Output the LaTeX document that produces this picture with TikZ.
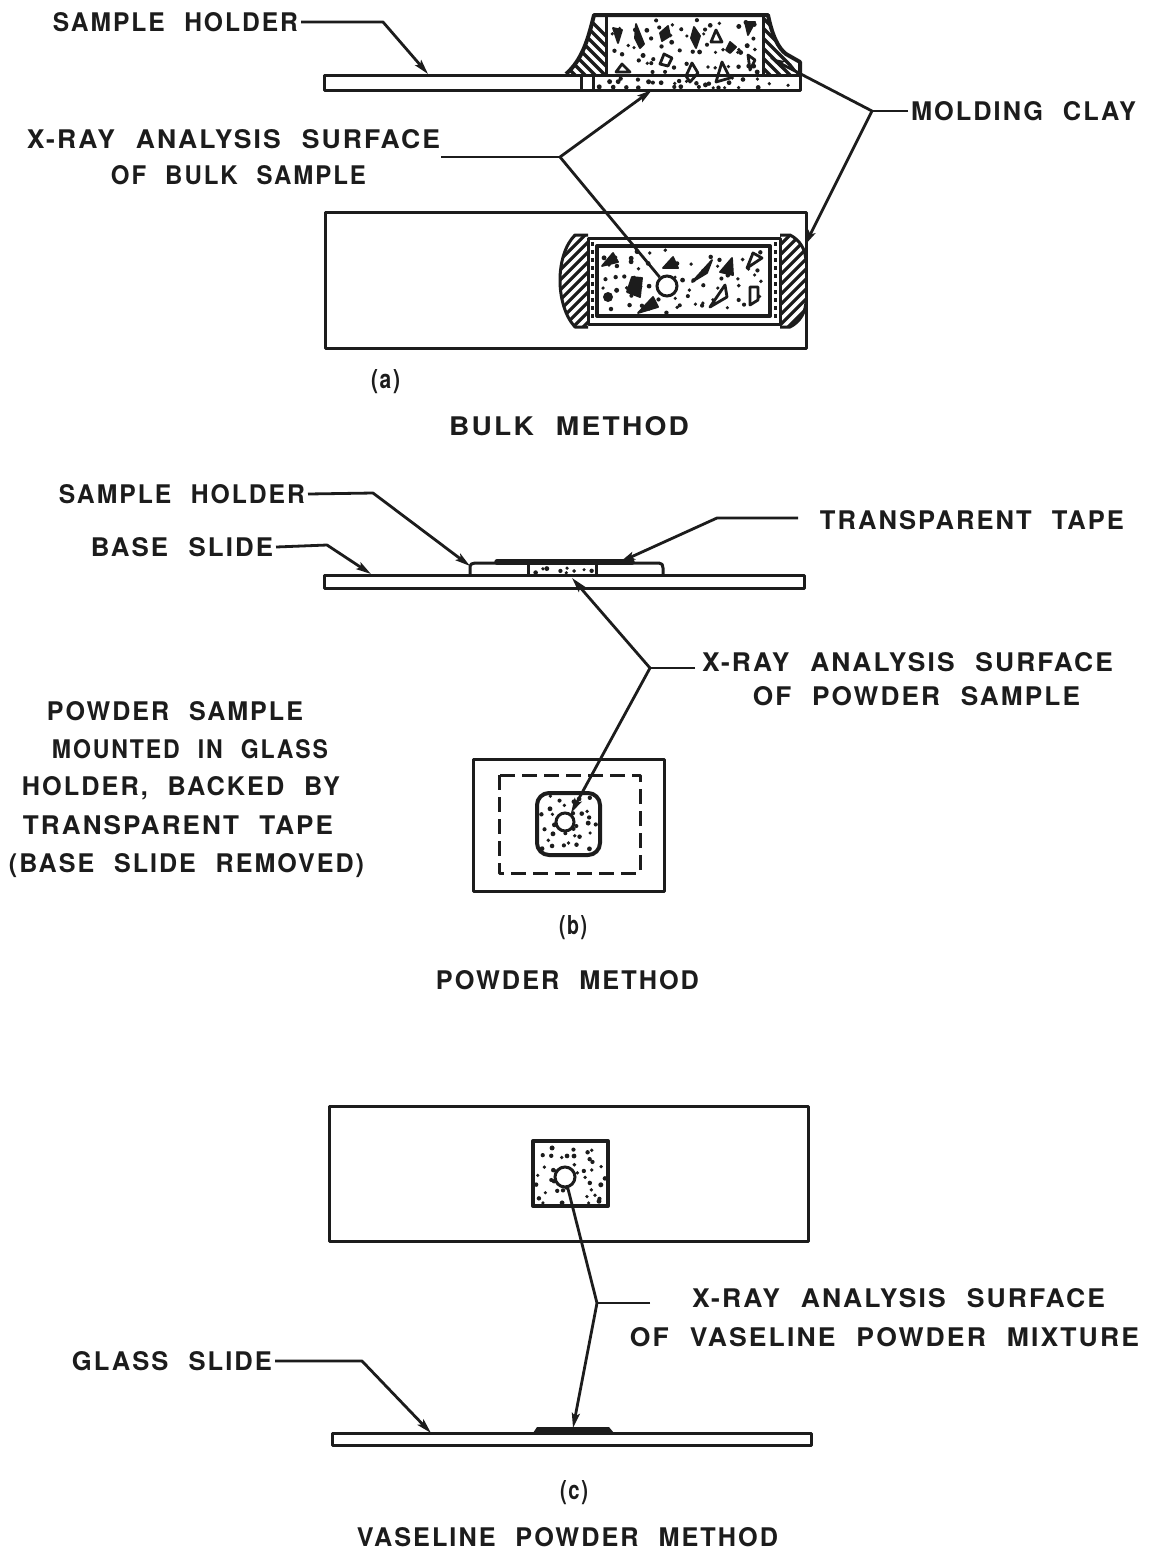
\documentclass[tikz,border=0pt]{standalone}
\usepackage{fontspec}
\usepackage{graphicx}
\usetikzlibrary{arrows.meta}
\newfontfamily\lblfont[LetterSpace=8,WordSpace=2.2]{TeX Gyre Heros Bold}
\definecolor{ink}{HTML}{1C1C1C}
\tikzset{
  line/.style={draw=ink,line width=3pt,line join=round},
  heavy/.style={draw=ink,line width=4pt,line join=round},
  ptr/.style={draw=ink,line width=2.8pt,line join=round,-{Stealth[length=15pt,width=8pt,inset=3pt]}},
  lead/.style={draw=ink,line width=2.8pt,line join=round},
  lab/.style={inner sep=0pt,outer sep=3pt,text=ink,text height=19pt,text depth=0pt},
  grain/.style={draw=ink,line width=2.8pt,fill=white,line join=round},
  solidgrain/.style={draw=ink,line width=1.8pt,fill=ink,line join=round},
  hatch/.style={draw=ink,line width=3.2pt},
  spot/.style={circle,draw=ink,line width=3pt,fill=white,inner sep=0pt},
}
% name, x-left, x-right, y-centre, text
\newcommand{\lbl}[5]{%
  \pgfmathsetlengthmacro{\lblw}{(#3-#2)*1pt}%
  \pgfmathsetmacro{\lblx}{(#2+#3)/2}%
  \node[lab] (#1) at (\lblx,#4) {\resizebox{\lblw}{19pt}{\lblfont #5}};}
% x1,x2,y1,y2,step : evenly scattered specks
\newcommand{\speckle}[5]{%
  \pgfmathsetmacro{\nxs}{int((#2-#1)/#5)}%
  \pgfmathsetmacro{\nys}{int((#4-#3)/#5)}%
  \foreach \ii in {0,...,\nxs}{%
    \foreach \jj in {0,...,\nys}{%
      \pgfmathsetmacro{\keep}{rnd}%
      \pgfmathsetmacro{\sx}{#1+(\ii+rnd)*#5}%
      \pgfmathsetmacro{\sy}{#3+(\jj+rnd)*#5}%
      \pgfmathsetmacro{\sr}{1.7+0.8*rnd}%
      \ifdim\keep pt<0.82pt
        \ifdim\sx pt<#2pt \ifdim\sy pt<#4pt
          \fill[ink] (\sx,\sy) circle[radius=\sr pt];
        \fi\fi
      \fi}}}
\begin{document}
\begin{tikzpicture}[x=1pt,y=-1pt]
\useasboundingbox (0,0) rectangle (1151,1551);
\fill[white] (0,0) rectangle (1151,1551);
\pgfmathsetseed{4217}

% ---------- (a) side view
\begin{scope}
  \clip (566,74) .. controls (582,60) and (588,40) .. (594,15) -- (606,15) -- (606,74) -- cycle;
  \foreach \k in {-10,0,...,80}{\draw[hatch] (560,{\k}) -- (610,{\k+50});}
\end{scope}
\begin{scope}
  \clip (768,15) .. controls (772,35) and (778,48) .. (800,75) -- (763,75) -- (763,15) -- cycle;
  \foreach \k in {-30,-20,...,80}{\draw[hatch] (755,{\k}) -- (805,{\k+50});}
\end{scope}
\speckle{609}{760}{20}{72}{10}
\speckle{596}{797}{78}{88}{8}
\draw[solidgrain] (613,28) -- (622,30) -- (618,43) -- cycle;
\draw[solidgrain] (636,24) -- (644,44) -- (640,48) -- (635,38) -- cycle;
\draw[solidgrain] (660,33) -- (668,26) -- (670,36) -- (662,41) -- cycle;
\draw[solidgrain] (694,27) -- (700,36) -- (696,48) -- (691,38) -- cycle;
\draw[solidgrain] (730,42) -- (736,47) -- (730,53) -- (726,50) -- cycle;
\draw[solidgrain] (745,22) -- (755,22) -- (748,35) -- cycle;
\draw[grain] (716,30) -- (722,42) -- (711,42) -- cycle;
\draw[grain] (664,54) -- (672,58) -- (668,66) -- (660,64) -- cycle;
\draw[grain] (622,64) -- (630,72) -- (616,72) -- cycle;
\draw[grain] (692,63) -- (698,73) -- (690,82) -- (686,76) -- cycle;
\draw[grain] (722,62) -- (730,78) -- (716,82) -- cycle;
\draw[grain] (748,55) -- (755,60) -- (750,70) -- cycle;
\draw[heavy] (566,74) .. controls (582,60) and (588,40) .. (594,15) -- (768,15)
  .. controls (772,35) and (778,48) .. (786,54) -- (800,62) -- (800,75);
\draw[line] (606,15) -- (606,74);
\draw[line] (763,15) -- (763,74);
\draw[line] (324,75) rectangle (800,90);
\draw[line] (581,75) -- (581,90);
\draw[line] (593,75) -- (593,90);

% ---------- (a) plan view
\draw[line] (325,212) rectangle (806,348);
\begin{scope}
  \clip (588,235) -- (575,235) .. controls (555,255) and (555,305) .. (575,327) -- (588,327) -- cycle;
  \foreach \k in {210,220,...,340}{\draw[hatch] (550,{\k+30}) -- (590,{\k-10});}
\end{scope}
\begin{scope}
  \clip (780,235) -- (790,235) .. controls (800,240) and (806,250) .. (806,262) -- (806,300) .. controls (806,312) and (800,322) .. (790,327) -- (780,327) -- cycle;
  \foreach \k in {210,220,...,350}{\draw[hatch] (775,{\k+30}) -- (810,{\k-5});}
\end{scope}
\draw[line] (588,235) -- (575,235) .. controls (555,255) and (555,305) .. (575,327) -- (588,327);
\draw[line] (780,235) -- (790,235) .. controls (800,240) and (806,250) .. (806,262);
\draw[line] (806,300) .. controls (806,312) and (800,322) .. (790,327) -- (780,327);
\draw[line] (588,238) rectangle (780,324);
\draw[heavy] (597,246) rectangle (770,316);
\draw[line,dash pattern=on 4pt off 4pt] (592,242) -- (592,320);
\draw[line,dash pattern=on 4pt off 4pt] (775,242) -- (775,320);
\speckle{601}{767}{250}{313}{11}
\draw[solidgrain] (613,253) -- (602,266) -- (618,262) -- cycle;
\draw[solidgrain] (673,257) -- (663,268) -- (678,268) -- cycle;
\draw[solidgrain] (712,260) -- (692,282) -- (707,273) -- cycle;
\draw[solidgrain] (732,258) -- (720,272) -- (733,275) -- cycle;
\draw[grain] (753,253) -- (747,268) -- (762,258) -- cycle;
\draw[solidgrain] (632,277) -- (627,292) -- (640,297) -- (642,278) -- cycle;
\fill[ink] (608,297) circle[radius=5pt];
\draw[solidgrain] (653,297) -- (638,313) -- (658,307) -- cycle;
\draw[grain] (725,285) -- (710,307) -- (727,297) -- cycle;
\draw[grain] (750,287) -- (750,305) -- (758,300) -- (758,287) -- cycle;
\node[spot,minimum size=20pt] (acirc) at (667,286) {};

% ---------- (a) labels and connectors
\lbl{aholder}{53}{298}{22}{SAMPLE HOLDER}
\lbl{axray}{27}{440}{139}{X-RAY ANALYSIS SURFACE}
\lbl{abulk}{111}{366}{175}{OF BULK SAMPLE}
\lbl{aclay}{911}{1136}{111}{MOLDING CLAY}
\lbl{alab}{371}{400}{379}{(a)}
\lbl{amethod}{449}{689}{426}{BULK METHOD}
\coordinate (a1) at (383,22);
\coordinate (a1t) at (428,74);
\coordinate (a2) at (560,157);
\coordinate (a2l) at (441,157);
\coordinate (a2t) at (652,90);
\coordinate (a3) at (872,111);
\coordinate (a3t) at (770,58);
\coordinate (a4t) at (805,245);
\draw[ptr] (aholder.east) -- (a1) -- (a1t);
\draw[lead] (a2l) -- (a2);
\draw[ptr] (a2) -- (a2t);
\draw[lead] (a2) -- (acirc);
\draw[lead] (aclay.west) -- (a3);
\draw[ptr] (a3) -- (a3t);
\draw[ptr] (a3) -- (a4t);

% ---------- (b) side view
\speckle{531}{594}{568}{574}{6}
\draw[line] (324,575) rectangle (804,588);
\draw[line] (470,575) -- (470,568) .. controls (470,564) and (472,563) .. (475,563) -- (659,563) .. controls (662,563) and (663,565) .. (663,568) -- (663,575);
\draw[draw=ink,line width=5.5pt,line cap=round] (497,562) -- (632,562);
\draw[line] (528,563) -- (528,575);
\draw[line] (596,563) -- (596,575);

% ---------- (b) plan view
\draw[line] (473,759) rectangle (664,891);
\draw[line,dash pattern=on 15pt off 7pt] (499,775) rectangle (640,873);
\begin{scope}
  \clip[rounded corners=12pt] (537,793) rectangle (600,855);
  \speckle{540}{598}{796}{853}{9}
\end{scope}
\draw[heavy,rounded corners=12pt] (537,793) rectangle (600,855);
\node[spot,minimum size=18pt] (bcirc) at (565,822) {};

% ---------- (b) labels and connectors
\lbl{bholder}{59}{305}{494}{SAMPLE HOLDER}
\lbl{bbase}{91}{273}{547}{BASE SLIDE}
\lbl{btape}{820}{1124}{520}{TRANSPARENT TAPE}
\lbl{bxray}{702}{1113}{662}{X-RAY ANALYSIS SURFACE}
\lbl{bpow}{753}{1080}{696}{OF POWDER SAMPLE}
\lbl{bn1}{47}{303}{711}{POWDER SAMPLE}
\lbl{bn2}{52}{328}{749}{MOUNTED IN GLASS}
\lbl{bn3}{22}{340}{786}{HOLDER, BACKED BY}
\lbl{bn4}{23}{333}{825}{TRANSPARENT TAPE}
\lbl{bn5}{9}{364}{863}{(BASE SLIDE REMOVED)}
\lbl{blab}{559}{587}{925}{(b)}
\lbl{bmethod}{436}{699}{980}{POWDER METHOD}
\coordinate (b1) at (373,493);
\coordinate (b1t) at (470,566);
\coordinate (b2) at (327,545);
\coordinate (b2t) at (371,574);
\coordinate (b3) at (717,518);
\coordinate (b3l) at (798,518);
\coordinate (b3t) at (620,562);
\coordinate (b4) at (650,668);
\coordinate (b4l) at (695,668);
\coordinate (b4t) at (572,578);
\coordinate (b5t) at (571,813);
\draw[ptr] (bholder.east) -- (b1) -- (b1t);
\draw[ptr] (bbase.east) -- (b2) -- (b2t);
\draw[ptr] (b3l) -- (b3) -- (b3t);
\draw[lead] (b4l) -- (b4);
\draw[ptr] (b4) -- (b4t);
\draw[ptr] (b4) -- (b5t);

% ---------- (c) plan view
\draw[line] (329,1106) rectangle (808,1241);
\speckle{536}{605}{1145}{1203}{9}
\draw[heavy] (533,1141) rectangle (608,1206);
\node[spot,minimum size=20pt] (ccirc) at (565,1177) {};

% ---------- (c) side view
\fill[ink] (533,1433) -- (537,1427) -- (609,1427) -- (614,1433) -- cycle;
\draw[line] (332,1433) rectangle (811,1445);

% ---------- (c) labels and connectors
\lbl{cxray}{692}{1105}{1298}{X-RAY ANALYSIS SURFACE}
\lbl{cmix}{630}{1139}{1337}{OF VASELINE POWDER MIXTURE}
\lbl{cglass}{72}{272}{1361}{GLASS SLIDE}
\lbl{clab}{560}{588}{1490}{(c)}
\lbl{cmethod}{357}{778}{1537}{VASELINE POWDER METHOD}
\coordinate (c1) at (362,1361);
\coordinate (c1t) at (431,1433);
\coordinate (c2) at (597,1303);
\coordinate (c2l) at (650,1303);
\coordinate (c2t) at (573,1428);
\draw[ptr] (cglass.east) -- (c1) -- (c1t);
\draw[lead] (c2l) -- (c2);
\draw[ptr] (c2) -- (c2t);
\draw[lead] (c2) -- (ccirc);
\end{tikzpicture}
\end{document}
